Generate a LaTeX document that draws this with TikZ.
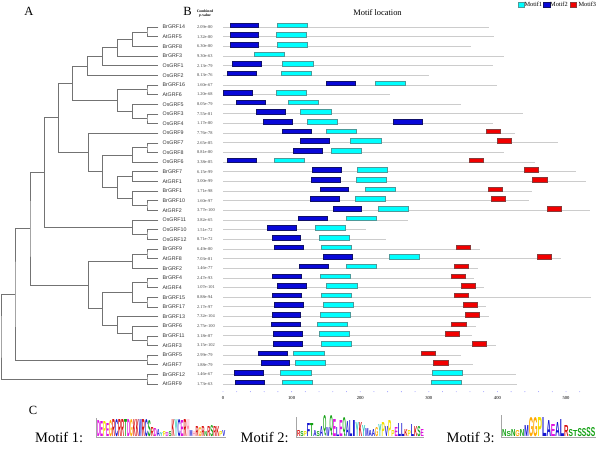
\documentclass[tikz,border=0pt]{standalone}
\usepackage{fontspec}
\setmainfont{Liberation Serif}
\setsansfont{Liberation Sans}
\usepackage{graphicx}
\usetikzlibrary{calc,positioning}

% motif colours
\definecolor{mfill1}{HTML}{00FFFF}
\definecolor{mline1}{HTML}{4C9A9A}
\definecolor{mfill2}{HTML}{0808D8}
\definecolor{mline2}{HTML}{10106A}
\definecolor{mfill3}{HTML}{F20000}
\definecolor{mline3}{HTML}{8A3A3A}
% residue colours for the logos
\definecolor{hb}{HTML}{1414D0}
\definecolor{pg}{HTML}{12A012}
\definecolor{ng}{HTML}{E010E0}
\definecolor{pr}{HTML}{D81010}
\definecolor{gy}{HTML}{FFA800}
\definecolor{py}{HTML}{F0E000}
\definecolor{hp}{HTML}{FF90B0}
\definecolor{ty}{HTML}{20C8B8}

% clade: parent, x, child a, child b
\newcommand\clade[4]{%
  \path let \p1=(#3), \p2=(#4) in (#2pt,{0.5*(\y1+\y2)}) coordinate (#1);
  \draw[branch] (#3) -| (#1) |- (#4);
}
% sequence logo: x start, column width, letters
\newcommand\seqlogo[3]{%
  \foreach \ltr/\hgt/\clr [count=\j] in {#3}
    \node[inner sep=0pt, anchor=south west, text=\clr] at ({#1+(\j-1)*#2},436.5)
      {\resizebox{#2pt}{\hgt pt}{\sffamily\bfseries\ltr}};
}

\begin{document}
\begin{tikzpicture}[x=1pt, y=-1pt,
  branch/.style={draw=black!55, line width=0.55pt},
  leaf/.style={anchor=west, inner sep=0pt, font=\sffamily\fontsize{5.3}{6}\selectfont, text=black!80},
  pval/.style={anchor=west, inner sep=0pt, font=\fontsize{4.4}{5}\selectfont, text=black!75},
  track/.style={draw=black!20, line width=0.8pt},
  tag/.style={inner sep=0pt, font=\fontsize{12.5}{14}\selectfont},
  motiflab/.style={inner sep=0pt, anchor=base west, font=\fontsize{14.5}{16}\selectfont},
  legbox/.style={inner sep=0pt, minimum width=6.3pt, minimum height=5.6pt, line width=0.4pt},
  legtxt/.style={inner sep=0pt, anchor=west, font=\fontsize{6.3}{7}\selectfont},
  tick/.style={inner sep=0pt, font=\fontsize{4.6}{5}\selectfont},
]
\useasboundingbox (0,0) rectangle (600,450);

% === PANEL LETTERS ===
\node[tag] (pa) at (29,11) {A};
\node[tag] (pb) at (187.5,11) {B};
\node[tag] (pc) at (33,410) {C};

% === HEADER AND LEGEND ===
\node[inner sep=0pt, align=center, font=\bfseries\fontsize{3.7}{3.9}\selectfont] (hdr) at (205,14) {Combined\\\textit{p}-value};
\node[inner sep=0pt, font=\fontsize{8.4}{9}\selectfont] (ttl) at (377.5,13) {Motif location};
\node[legbox, fill=mfill1, draw=mline1] (k1) at (521,4.5) {};
\node[legtxt] (k1t) at (524.3,4.5) {Motif1};
\node[legbox, fill=mfill2, draw=mline2] (k2) at (546.6,4.5) {};
\node[legtxt] (k2t) at (550,4.5) {Motif2};
\node[legbox, fill=mfill3, draw=mline3] (k3) at (573.4,4.5) {};
\node[legtxt] (k3t) at (578.3,4.5) {Motif3};

% === GENES, P-VALUES AND MOTIF TRACKS ===
\foreach \gname/\pv/\len/\hits [count=\i] in {
  BrGRF14/2.09e-80/388/{2/10,1/79},
  AtGRF5/1.32e-80/395/{2/10,1/78},
  BrGRF8/6.30e-80/361/{2/10,1/79},
  BrGRF3/9.30e-63/409/{1/45},
  OsGRF1/2.13e-79/394/{2/13,1/87},
  OsGRF2/8.13e-76/300/{2/6,1/85},
  BrGRF16/1.60e-67/399/{2/150,1/222},
  AtGRF6/1.20e-68/243/{2/1,1/78},
  OsGRF5/8.05e-79/347/{2/19,1/95},
  OsGRF3/7.55e-81/438/{2/48,1/113},
  OsGRF4/1.17e-80/393/{2/59,1/123,2/248},
  OsGRF9/7.76e-78/425/{2/87,1/150,3/383},
  OsGRF7/2.65e-85/489/{2/113,1/186,3/399},
  OsGRF8/8.81e-80/409/{2/103,1/157},
  OsGRF6/3.38e-85/455/{2/6,1/75,3/359},
  BrGRF7/6.15e-99/515/{2/130,1/196,3/439},
  AtGRF1/3.00e-99/529/{2/129,1/194,3/451},
  BrGRF1/1.71e-98/450/{2/141,1/207,3/386},
  BrGRF10/1.60e-97/446/{2/127,1/193,3/391},
  AtGRF2/3.77e-100/535/{2/160,1/226,3/472},
  OsGRF11/3.82e-65/269/{2/110,1/179},
  OsGRF10/1.51e-72/209/{2/64,1/134},
  OsGRF12/8.71e-72/237/{2/71,1/140},
  BrGRF9/6.49e-80/375/{2/75,1/143,3/340},
  AtGRF8/7.03e-81/493/{2/146,1/242,3/458},
  BrGRF2/1.46e-77/371/{2/111,1/179,3/337},
  BrGRF4/2.47e-93/366/{2/72,1/142,3/332},
  AtGRF4/1.07e-101/380/{2/79,1/151,3/347},
  BrGRF15/8.88e-94/537/{2/72,1/143,3/337},
  BrGRF17/2.17e-97/383/{2/75,1/146,3/350},
  BrGRF13/7.32e-104/388/{2/71,1/142,3/353},
  BrGRF6/2.75e-100/369/{2/70,1/137,3/333},
  BrGRF11/3.18e-87/363/{2/73,1/140,3/324},
  AtGRF3/3.15e-102/398/{2/73,1/143,3/363},
  BrGRF5/2.99e-79/347/{2/52,1/103,3/289},
  AtGRF7/1.88e-79/365/{2/55,1/105,3/307},
  BrGRF12/1.46e-67/427/{2/16,1/84,1/305},
  AtGRF9/1.73e-63/429/{2/18,1/86,1/303}}{
  \pgfmathsetmacro\ry{27+(\i-1)*9.65}
  \coordinate (t\i) at (158.3,\ry);
  \node[leaf] (g\i) at (162.5,\ry) {\gname};
  \node[pval] (p\i) at (196.8,\ry) {\pv};
  \begin{scope}[xshift=223pt, x=0.686pt]
    \draw[track] (0,\ry) -- (\len,\ry);
    \foreach \m/\s in \hits {
      \pgfmathsetmacro\mw{{44,42,21}[\m-1]}
      \draw[fill=mfill\m, draw=mline\m, line width=0.4pt] (\s,\ry-4.2) rectangle ++(\mw,4.6);
    }
  \end{scope}
}

% === POSITION AXIS ===
\begin{scope}[xshift=223pt, x=0.686pt]
  \foreach \a in {0,20,...,520}
    \fill[blue!55] (\a,391.7) circle (0.45pt);
  \foreach \a in {0,100,...,500}
    \node[tick] at (\a,397.5) {\a};
\end{scope}

% === TREE ===
\clade{a1}{147}{t1}{t2}
\clade{a2}{132.7}{a1}{t3}
\clade{a3}{117.3}{a2}{t4}
\clade{a4}{102.7}{a3}{t5}
\clade{a5}{87.7}{a4}{t6}
\clade{b1}{147}{t7}{t8}
\clade{b2}{147}{t10}{t11}
\clade{b3}{132.7}{t9}{b2}
\clade{b4}{117.3}{b1}{b3}
\clade{c1}{72.7}{a5}{b4}
\clade{d1}{147}{t13}{t14}
\clade{d2}{132.7}{d1}{t15}
\clade{d3}{132.3}{t16}{t17}
\clade{d4}{147}{t19}{t20}
\clade{d5}{132.3}{t18}{d4}
\clade{d6}{117.3}{d3}{d5}
\clade{d7}{102.7}{d2}{d6}
\clade{d8}{88.3}{t12}{d7}
\clade{c2}{58.7}{c1}{d8}
\clade{e1}{147}{t22}{t23}
\clade{e2}{132.3}{t21}{e1}
\clade{c3}{44.3}{c2}{e2}
\clade{f1}{147}{t24}{t25}
\clade{f2}{132.3}{f1}{t26}
\clade{f3}{147}{t27}{t28}
\clade{f4}{147}{t29}{t30}
\clade{f5}{132.3}{f3}{f4}
\clade{f6}{147}{t33}{t34}
\clade{f7}{132.3}{t32}{f6}
\clade{f8}{117.3}{t31}{f7}
\clade{f9}{102.7}{f5}{f8}
\clade{f10}{88.3}{f2}{f9}
\clade{c4}{30}{c3}{f10}
\clade{g1}{147}{t35}{t36}
\clade{c5}{15}{c4}{g1}
\clade{h1}{147}{t37}{t38}
\clade{root}{1}{c5}{h1}

% === MOTIF LOGOS ===
\node[motiflab] (m1) at (35,442) {Motif 1:};
\node[motiflab] (m2) at (240.5,442) {Motif 2:};
\node[motiflab] (m3) at (446.5,442) {Motif 3:};
\draw[black!35, line width=0.3pt] (96,418) -- (96,437) -- (226,437);
\draw[black!35, line width=0.3pt] (296,417) -- (296,437) -- (424,437);
\draw[black!35, line width=0.3pt] (501,415) -- (501,437) -- (596,437);
\seqlogo{97}{2.98}{D/16/ng,E/15/ng,P/15/py,E/13/ng,G/16/gy,R/17/pr,C/17/hb,R/17/pr,R/17/pr,T/17/pg,D/17/ng,G/17/gy,K/17/pr,K/17/pr,W/17/hb,R/17/pr,C/17/hb,S/16/pg,R/9/pr,D/8/ng,A/7/hb,Y/4/ty,P/5/py,D/4/ng,S/5/pg,K/17/pr,Y/17/ty,C/17/hb,E/16/ng,R/17/pr,H/17/hp,M/6/hb,H/5/hp,R/10/pr,G/9/gy,R/10/pr,N/5/pg,R/10/pr,S/11/pg,R/10/pr,K/10/pr,P/5/py,V/6/hb}
\seqlogo{297}{3.25}{R/6/pr,S/5/pg,P/5/py,F/13/hb,T/13/pg,A/6/hb,S/5/pg,A/10/hb,Q/16/pg,W/9/hb,Q/16/pg,E/17/ng,L/9/hb,E/16/ng,Q/15/pg,A/15/hb,L/16/hb,I/16/hb,Y/14/ty,K/14/pr,Y/11/ty,M/8/hb,A/6/hb,A/7/hb,G/9/gy,Y/12/ty,P/14/py,V/10/hb,P/16/py,P/6/py,E/9/ng,L/13/hb,L/13/hb,K/7/pr,P/6/py,L/12/hb,K/10/pr,S/10/pg,E/7/ng}
\seqlogo{502}{4.43}{N/7/pg,S/5/pg,N/7/pg,G/6/gy,N/7/pg,M/11/hb,G/19/gy,G/19/gy,P/19/py,L/19/hb,A/16/hb,E/12/ng,A/14/hb,L/17/hb,R/11/pr,S/7/pg,T/6/pg,S/8/pg,S/8/pg,S/9/pg,S/9/pg}
\end{tikzpicture}
\end{document}
